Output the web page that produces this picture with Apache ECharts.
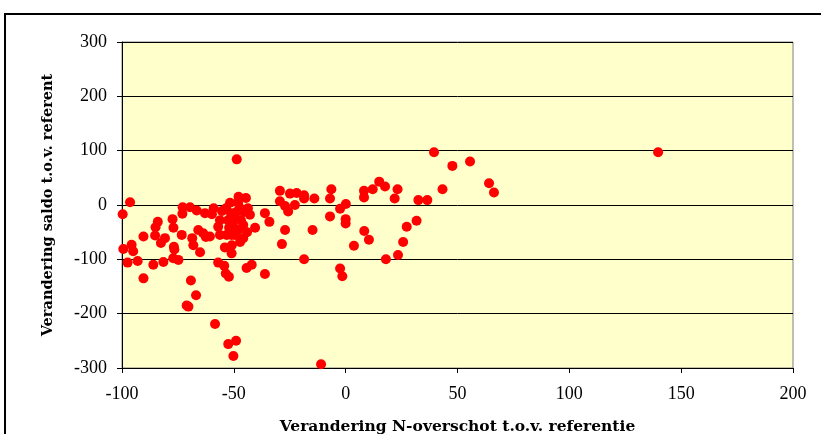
<!DOCTYPE html>
<html style="height: 100%">
<head>
<meta charset="utf-8">
<script src="https://cdn.jsdelivr.net/npm/echarts@6/dist/echarts.min.js"></script>
</head>
<body style="height: 100%; margin: 0; background: #fff">
<div id="container" style="width: 821px; height: 434px"></div>
<script type="text/javascript">
// verandering N-overschot (x) en saldo (y) t.o.v. referentie
var xVals = [-99.7, -96.4, -99.4, -97.5, -95.7, -95, -93, -90.4, -90.4, -86,
    -85.2, -85, -84, -81.5, -82.6, -80.8, -77.4, -77, -76.6, -77.1,
    -74.8, -76.8, -73.3, -73, -72.9, -69.6, -66.6, -71.1, -70.3, -66.9,
    -69.2, -68.1, -68.6, -65.1, -65.9, -63.7, -60.7, -62.5, -59, -59.8,
    -58.4, -57, -54.3, -53.6, -52.2, -52.5, -49, -50.2, -54, -51,
    -56.2, -57, -55.3, -53.2, -51.7, -51.3, -48.7, -47.9, -47.2, -43.7,
    -42.8, -49.5, -45.8, -40.5, -51, -45.8, -47.2, -44.3, -42, -36.1,
    -36.1, -34.1, -29.4, -24.9, -21.9, -18.6, -14, -29.4, -27.1, -25.7,
    -22.7, -18.6, -27.1, -28.5, -14.8, -18.6, -6.4, -7, -2.5, 0.1,
    -7, 0, 0, -2.5, -1.5, -11, 3.7, 8.2, 8.2, 12.1,
    15, 17.6, 23.2, 21.9, 8.3, 10.4, 18, 23.4, 25.7, 27.3,
    31.7, 32.5, 36.5, 39.5, 43.3, 47.7, 55.6, 64.1, 66.3, 139.7,
    -52.6, -50.4, -48.1, -46.8, -48.9, -45.5, -50.9, -53.5, -44.6, -48.1,
    -49.5, -44.1, -52.1, -56.2, -62.9];
var yVals = [-17, 5, -81, -106, -73, -85, -103, -135, -58, -110,
    -56, -41, -31, -105, -70, -61, -26, -42, -82, -98,
    -101, -77, -55, -16, -4, -4, -10, -185, -187, -166,
    -139, -74, -61, -87, -46, -52, -58, -59, -6, -17,
    -219, -106, -112, -126, -132, -256, -250, -278, -78, -89,
    -28, -40, -11, -55, 4, -15, 84, 15, -6, -6,
    -18, -24, -37, -42, -55, -61, -68, -116, -110, -127,
    -15, -31, 26, 21, 22, 18, 12, 7, -2, -12,
    0, 12, -46, -72, -46, -100, 29, 12, -7, 2,
    -21, -26, -34, -117, -131, -293, -75, 26, 14, 29,
    43, 34, 29, 12, -48, -64, -100, -92, -68, -40,
    -29, 9, 9, 97, 29, 72, 80, 40, 23, 97,
    -28, -37, -46, -28, -13, -13, -74, -6, 13, 4,
    -55, -50, -42, -55, -15];
var xTicks = [-100, 200, 50];
var yTicks = [-300, 300, 100];

var points = xVals.map(function (x, i) { return [x, yVals[i]]; });

var dom = document.getElementById("container");
var myChart = echarts.init(dom);
var serif = '"Liberation Serif", "DejaVu Serif", serif';
var wideSerif = '"DejaVu Serif", serif';
var option = {
    animation: false,
    backgroundColor: '#ffffff',
    graphic: [{
        type: 'rect',
        shape: {x: 5, y: 14, width: 840, height: 440},
        style: {fill: 'none', stroke: '#000', lineWidth: 2},
        z: 0
    }],
    grid: {
        left: 122, top: 42, width: 671, height: 326,
        outerBoundsMode: 'none',
        containLabel: false,
        show: true,
        backgroundColor: '#FFFFCC',
        borderColor: '#808080',
        borderWidth: 1
    },
    xAxis: {
        type: 'value',
        min: xTicks[0], max: xTicks[1], interval: xTicks[2],
        name: 'Verandering N-overschot t.o.v. referentie',
        nameLocation: 'middle',
        nameGap: 51,
        nameTextStyle: {fontFamily: wideSerif, fontSize: 15.5, fontWeight: 'bold', color: '#000'},
        axisLine: {onZero: false, lineStyle: {color: '#000', width: 1}},
        axisTick: {show: true, length: 5, lineStyle: {color: '#000'}},
        axisLabel: {fontFamily: serif, fontSize: 18, color: '#000', margin: 17},
        splitLine: {show: false}
    },
    yAxis: {
        type: 'value',
        min: yTicks[0], max: yTicks[1], interval: yTicks[2],
        name: 'Verandering saldo t.o.v. referent',
        nameLocation: 'middle',
        nameGap: 66,
        nameTextStyle: {fontFamily: wideSerif, fontSize: 14.5, fontWeight: 'bold', color: '#000'},
        axisLine: {show: true, onZero: false, lineStyle: {color: '#000', width: 1}},
        axisTick: {show: true, length: 5, lineStyle: {color: '#000'}},
        axisLabel: {fontFamily: serif, fontSize: 18, color: '#000', margin: 15},
        splitLine: {show: true, lineStyle: {color: '#000', width: 1}}
    },
    series: [{
        type: 'scatter',
        symbol: 'circle',
        symbolSize: 10,
        itemStyle: {color: '#FF0000', opacity: 1},
        data: points
    }]
};
myChart.setOption(option);
</script>
</body>
</html>
